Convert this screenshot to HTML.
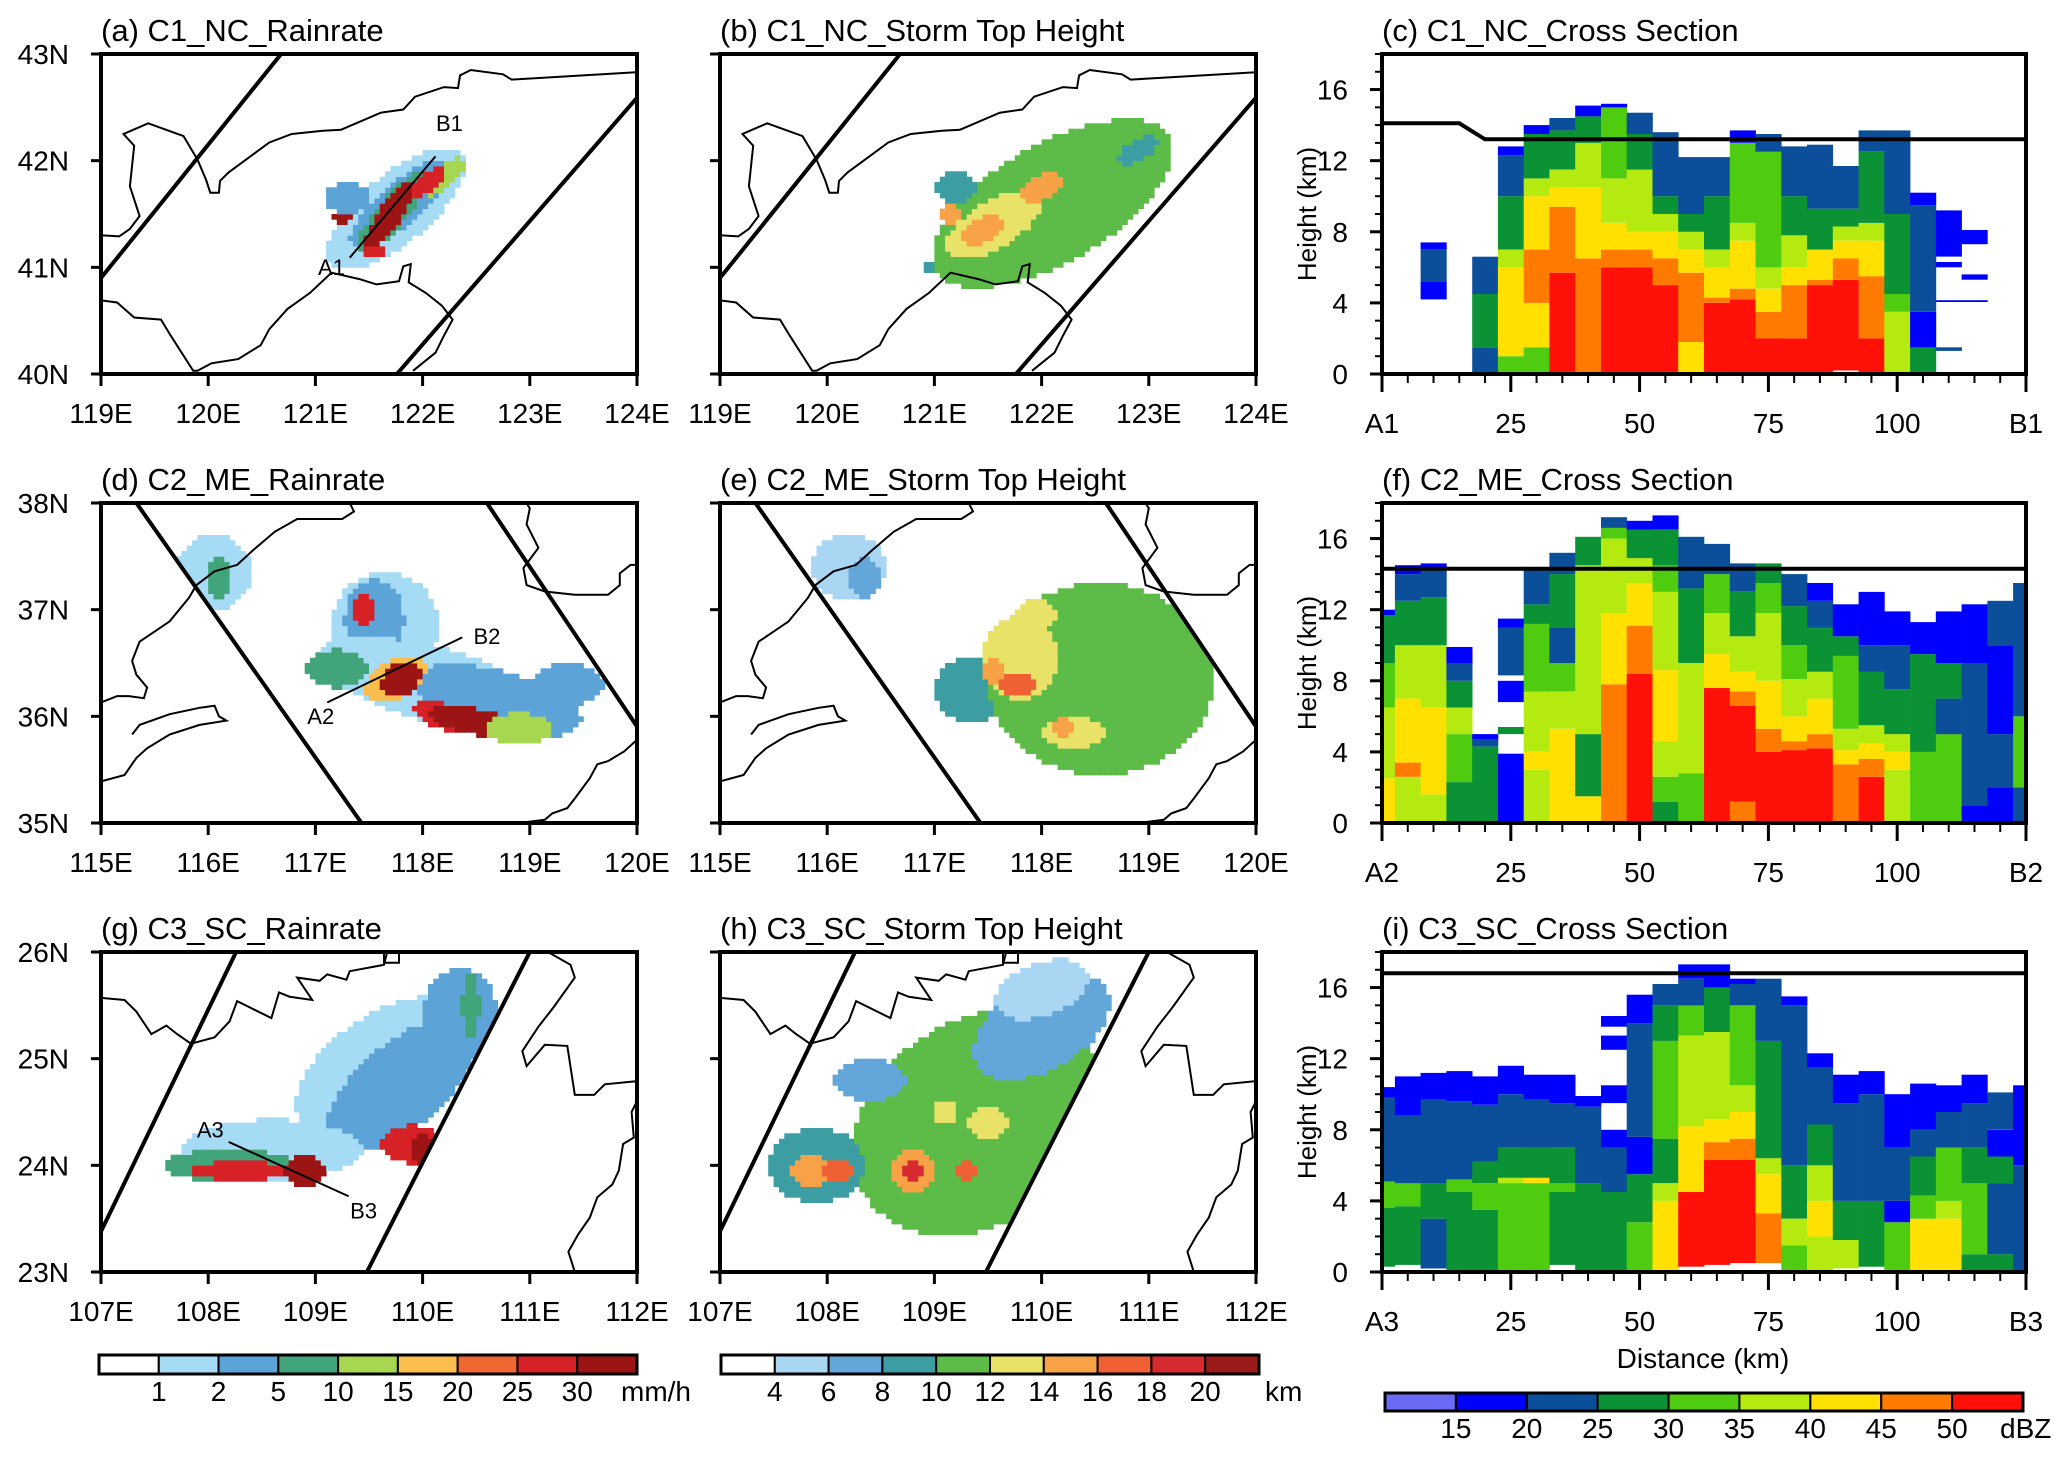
<!DOCTYPE html>
<html><head><meta charset="utf-8"><title>Storm cases figure</title>
<style>
html,body{margin:0;padding:0;background:#fff;width:2067px;height:1457px;overflow:hidden;}
svg{display:block;font-family:"Liberation Sans",Arial,sans-serif;}
</style></head>
<body>
<svg id="fig" xmlns="http://www.w3.org/2000/svg" width="2067" height="1457" viewBox="0 0 2067 1457" overflow="hidden">
<rect x="0" y="0" width="2067" height="1457" fill="#fff"/>
</svg>
<script>
// ---------- palettes ----------
const rainColors=["#ffffff","#a6dbf6","#5ca3d8","#41a47a","#a7d650","#fbbd4c","#f06631","#d62126","#9c1414"];
const rainTicks=["1","2","5","10","15","20","25","30"];
const stormColors=["#ffffff","#a8d6f3","#63a6d9","#3c9ea3","#5dbb48","#e8e268","#f7a246","#ef6134","#d72a30","#9b1a1a"];
const stormTicks=["4","6","8","10","12","14","16","18","20"];
const dbzColors=["#6a6af5","#0000ff","#0b4f9b","#0a9234","#4fcc10","#b5ea10","#ffe000","#ff7a00","#ff1008"];
const dbzTicks=["15","20","25","30","35","40","45","50"];
const xsTicks=[0,25,50,75,100,125];
const xsYTicks=[0,4,8,12,16];

// ---------- map data (lon/lat) ----------
const coastNC=[
[[124.27,42.99],[124.18,42.93],[124.18,42.84],[122.83,42.76],[122.75,42.81],[122.45,42.85],[122.35,42.80],[122.33,42.68],[122.2,42.69],[121.93,42.6],[121.82,42.48],[121.61,42.45],[121.24,42.29],[121.07,42.28],[120.78,42.25],[120.57,42.17],[120.19,41.89],[120.11,41.81],[120.1,41.7],[120.02,41.7],[119.98,41.82],[119.9,42.01],[119.77,42.23],[119.44,42.35],[119.21,42.25],[119.31,42.14],[119.27,41.76],[119.36,41.48],[119.27,41.36],[119.17,41.29],[119.0,41.3]],
[[119.0,40.69],[119.15,40.67],[119.31,40.53],[119.56,40.51],[119.65,40.36],[119.86,40.03],[119.9,40.03],[120.03,40.1],[120.28,40.14],[120.49,40.27],[120.57,40.42],[120.74,40.61],[120.95,40.76],[121.15,40.95],[121.41,40.89],[121.57,40.84],[121.78,40.87],[121.82,41.01],[121.89,41.03],[121.87,40.86],[122.03,40.76],[122.18,40.64],[122.28,40.51],[122.2,40.36],[122.12,40.2],[121.91,40.03]]
];
const coastME=[
[[117.32,38],[117.36,37.92],[117.25,37.85],[116.83,37.85],[116.62,37.73],[116.41,37.55],[116.27,37.42],[116.06,37.36],[115.89,37.23],[115.82,37.11],[115.64,36.89],[115.36,36.7],[115.29,36.52],[115.33,36.39],[115.43,36.27],[115.4,36.17],[115.26,36.19],[115.15,36.19],[115.0,36.13]],
[[115.29,35.83],[115.36,35.92],[115.64,36.02],[115.92,36.08],[116.06,36.1],[116.1,36.0],[116.17,35.96],[115.92,35.92],[115.64,35.83],[115.43,35.7],[115.33,35.61],[115.22,35.45],[115.0,35.39]],
[[118.97,38],[119.0,37.95],[118.97,37.8],[119.08,37.58],[118.94,37.39],[118.97,37.23],[119.14,37.17],[119.42,37.14],[119.73,37.14],[119.84,37.23],[119.84,37.34],[119.94,37.42],[120,37.42]],
[[120,35.78],[119.88,35.67],[119.78,35.61],[119.73,35.58],[119.63,35.55],[119.56,35.42],[119.42,35.23],[119.35,35.14],[119.21,35.09],[119.14,35.03],[118.9,35.0]]
];
const coastSC=[
[[107,25.57],[107.22,25.55],[107.33,25.44],[107.47,25.23],[107.61,25.31],[107.71,25.23],[107.84,25.14],[108.06,25.2],[108.2,25.35],[108.27,25.54],[108.59,25.38],[108.66,25.62],[108.76,25.58],[108.97,25.55],[108.83,25.76],[109.04,25.73],[109.11,25.79],[109.29,25.74],[109.32,25.82],[109.64,25.88],[109.67,26]],
[[109.64,26],[109.64,25.9],[109.78,25.9],[109.78,26]],
[[111.17,26],[111.38,25.88],[111.42,25.76],[111.22,25.48],[111.08,25.3],[110.93,25.07],[110.97,24.93],[111.14,25.13],[111.35,25.12],[111.42,24.66],[111.6,24.66],[111.7,24.76],[112,24.79]],
[[112,24.6],[111.95,24.5],[111.97,24.26],[111.87,24.2],[111.83,23.95],[111.77,23.82],[111.63,23.7],[111.56,23.51],[111.45,23.35],[111.36,23.19],[111.42,23.0]]
];
const swathNC=[[[119,40.9],[120.68,43]],[[121.76,40],[124,42.59]]];
const swathME=[[[115.33,38],[117.43,35]],[[118.6,38],[119.99,35.92]]];
const swathSC=[[[108.26,26],[107,23.38]],[[111,26],[109.48,23]]];
// patches [lon, lat, rx, ry, angleDeg, level]
const rainA=[[121.75,41.55,0.8,0.32,40,1],[121.8,41.6,0.6,0.2,40,2],[121.3,41.65,0.22,0.15,0,2],[121.72,41.52,0.5,0.14,50,3],[122.2,41.85,0.25,0.1,40,4],[121.7,41.5,0.38,0.11,55,8],[122.05,41.8,0.2,0.08,40,7],[121.25,41.47,0.08,0.05,0,8],[121.55,41.15,0.1,0.06,0,7]];
const stormB=[[122.1,41.6,1.25,0.55,30,4],[122.8,42.0,0.35,0.2,30,4],[122.9,42.1,0.2,0.1,30,3],[121.2,41.75,0.2,0.15,0,3],[121.55,41.4,0.5,0.22,30,5],[121.45,41.35,0.2,0.12,30,6],[121.15,41.5,0.12,0.08,0,6],[122.0,41.75,0.2,0.12,30,6],[120.95,41.0,0.08,0.05,0,3]];
const rainD=[[116.05,37.35,0.35,0.35,0,1],[116.1,37.3,0.12,0.2,0,3],[117.65,36.85,0.5,0.5,0,1],[117.55,36.9,0.28,0.38,0,2],[117.45,37.0,0.1,0.18,0,7],[118.1,36.3,1.1,0.35,-15,1],[118.7,36.15,0.8,0.28,-15,2],[119.35,36.3,0.35,0.2,0,2],[117.2,36.45,0.3,0.18,0,3],[117.75,36.35,0.32,0.18,30,5],[117.8,36.35,0.2,0.15,30,8],[118.2,36.0,0.3,0.12,-20,7],[118.5,35.95,0.45,0.12,-10,8],[118.9,35.88,0.3,0.15,0,4]];
const stormE=[[116.2,37.4,0.35,0.3,0,1],[116.35,37.3,0.15,0.18,0,2],[117.35,36.25,0.35,0.3,0,3],[118.55,36.35,1.05,0.9,0,4],[117.8,36.55,0.35,0.4,0,5],[117.95,36.95,0.2,0.15,0,5],[118.3,35.85,0.3,0.15,0,5],[117.55,36.42,0.12,0.12,0,6],[117.78,36.3,0.16,0.12,0,7],[118.2,35.9,0.1,0.08,0,6]];
const rainG=[[109.6,24.95,0.9,0.45,35,1],[109.8,24.75,0.85,0.4,40,2],[110.35,25.4,0.35,0.45,0,2],[108.6,24.15,0.85,0.28,0,1],[108.2,24.0,0.6,0.16,0,3],[108.3,23.95,0.45,0.09,0,7],[108.9,23.95,0.2,0.15,0,8],[109.9,24.2,0.28,0.18,0,7],[110.0,24.15,0.1,0.16,0,8],[110.45,25.5,0.08,0.3,0,3]];
const stormH=[[109.4,24.4,1.25,0.95,35,4],[110.0,25.3,0.7,0.4,30,2],[110.0,25.65,0.45,0.25,20,1],[108.4,24.8,0.35,0.2,0,2],[107.9,24.0,0.45,0.35,0,3],[107.85,23.95,0.2,0.15,0,6],[108.1,23.95,0.15,0.1,0,7],[108.8,23.95,0.22,0.2,0,6],[108.8,23.95,0.1,0.1,0,8],[109.3,23.95,0.1,0.1,0,7],[109.5,24.4,0.18,0.15,0,5],[109.1,24.5,0.1,0.12,0,5]];

// ---------- cross-section data ----------
const colsC=[
[10,[[4.2,5.2,1],[5.2,7,2],[7,7.4,1]]],
[20,[[0,1.5,2],[1.5,4.5,3],[4.5,6.6,2]]],
[25,[[0,1,4],[1,6,6],[6,7,5],[7,10,3],[10,12.3,2],[12.3,12.8,1]]],
[30,[[0,1.5,4],[1.5,4,6],[4,7,7],[7,10,6],[10,11,5],[11,13.5,3],[13.5,14,1]]],
[35,[[0,5.7,8],[5.7,9.4,7],[9.4,10.5,6],[10.5,11.5,5],[11.5,13.7,3],[13.7,14.4,2]]],
[40,[[0,6.5,7],[6.5,10.5,6],[10.5,13,5],[13,14.5,3],[14.5,15.1,1]]],
[45,[[0,6,8],[6,7,7],[7,8.5,6],[8.5,11,5],[11,15,4],[15,15.2,1]]],
[50,[[0,6,8],[6,7,7],[7,8,6],[8,11.5,5],[11.5,13.5,3],[13.5,14.7,2]]],
[55,[[0,5,8],[5,6.5,7],[6.5,8,6],[8,9,5],[9,10,3],[10,13.6,2]]],
[60,[[0,1.8,6],[1.8,5.7,7],[5.7,7,6],[7,8,5],[8,9,3],[9,12.2,2]]],
[65,[[0,4,8],[4,4.3,7],[4.3,6,6],[6,7,5],[7,10,3],[10,12.2,2]]],
[70,[[0,4.2,8],[4.2,4.8,7],[4.8,7.5,6],[7.5,8.5,5],[8.5,13,4],[13,13.7,1]]],
[75,[[0,2,8],[2,3.5,7],[3.5,4.8,6],[4.8,6,5],[6,12.5,4],[12.5,13.5,2]]],
[80,[[0,2,8],[2,5,7],[5,6,6],[6,7.8,5],[7.8,10,3],[10,12.8,2]]],
[85,[[0,5,8],[5,5.3,7],[5.3,7,6],[7,9.3,3],[9.3,12.9,2]]],
[90,[[0.2,5.3,8],[5.3,6.5,7],[6.5,7.5,6],[7.5,8.3,5],[8.3,9.3,3],[9.3,11.7,2]]],
[95,[[0,2,8],[2,5.5,7],[5.5,7.5,6],[7.5,8.5,5],[8.5,12.5,3],[12.5,13.7,2]]],
[100,[[0,3.5,5],[3.5,4.5,4],[4.5,9,3],[9,13.7,2]]],
[105,[[0,1.5,3],[1.5,3.5,1],[3.5,9.5,2],[9.5,10.2,1]]],
[110,[[1.3,1.5,2],[4.05,4.15,1],[6,6.3,1],[6.6,9.2,1]]],
[115,[[4.05,4.15,1],[5.3,5.6,1],[7.3,8.1,1]]]
];
const colsF=[
[0,[[0,2.5,6],[2.5,6.5,5],[6.5,9,4],[9,11.7,3],[11.7,12,1]]],
[5,[[0,2.6,5],[2.6,3.4,7],[3.4,7,6],[7,10,5],[10,12.5,3],[12.5,14,2],[14,14.5,1]]],
[10,[[0,1.6,5],[1.6,6.5,6],[6.5,10,5],[10,12.7,3],[12.7,14.4,2],[14.4,14.6,1]]],
[15,[[0,2.3,3],[2.3,5,4],[5,6.5,5],[6.5,8,3],[8,9,2],[9,9.9,1]]],
[20,[[0,4.3,3],[4.3,4.7,2],[4.7,5,1]]],
[25,[[0,3.9,1],[5,5.4,3],[6.8,8,1],[8.3,11,2],[11,11.5,1]]],
[30,[[0,3,5],[3,4,6],[4,7.4,5],[7.4,11.2,4],[11.2,12.3,3],[12.3,14.4,2]]],
[35,[[0,5.3,6],[5.3,7.4,5],[7.4,9,4],[9,11,2],[11,14,3],[14,15.2,2]]],
[40,[[0,1.5,6],[1.5,5,3],[5,14.5,5],[14.5,16.1,3]]],
[45,[[0,7.8,7],[7.8,11.8,6],[11.8,16,5],[16,16.6,4],[16.6,17.2,2]]],
[50,[[0,8.4,8],[8.4,11.1,7],[11.1,13.5,6],[13.5,14.9,5],[14.9,16.5,3],[16.5,17,1]]],
[55,[[0,1.2,3],[1.2,2.6,4],[2.6,4.6,5],[4.6,8.6,6],[8.6,13,5],[13,14.5,4],[14.5,16.5,3],[16.5,17.3,1]]],
[60,[[0,2.8,4],[2.8,9,5],[9,13.2,3],[13.2,16.1,2]]],
[65,[[0,7.6,8],[7.6,9.5,6],[9.5,11.8,5],[11.8,14,4],[14,15.7,2]]],
[70,[[0,1.2,7],[1.2,6.6,8],[6.6,7.4,7],[7.4,8.5,6],[8.5,10.5,5],[10.5,13,3],[13,14.6,2]]],
[75,[[0,4,8],[4,5.3,7],[5.3,8,6],[8,11.8,5],[11.8,13.5,4],[13.5,14.6,3]]],
[80,[[0,4.1,8],[4.1,4.6,7],[4.6,6,6],[6,8.1,5],[8.1,10,4],[10,12.2,3],[12.2,14,2]]],
[85,[[0,4.2,8],[4.2,5,7],[5,7,6],[7,8.5,5],[8.5,11,3],[11,12.5,2],[12.5,13.5,1]]],
[90,[[0,3.3,7],[3.3,4.1,6],[4.1,5.3,5],[5.3,9.4,4],[9.4,10.5,3],[10.5,12.3,1]]],
[95,[[0,2.6,8],[2.6,3.6,7],[3.6,4.5,6],[4.5,5.5,5],[5.5,8.5,3],[8.5,10,2],[10,13,1]]],
[100,[[0,3,5],[3,4,6],[4,5,5],[5,7.5,3],[7.5,10,2],[10,11.9,1]]],
[105,[[0,4,4],[4,9.5,3],[9.5,11.3,1]]],
[110,[[0,5,4],[5,7,2],[7,9,3],[9,11.9,1]]],
[115,[[0,1,1],[1,9,2],[9,12.3,1]]],
[120,[[0,2,1],[2,5,2],[5,10,1],[10,12.5,2]]],
[125,[[0,2,2],[2,6,4],[6,13.5,2]]]
];
const colsI=[
[0,[[0.3,3.6,3],[3.6,5.1,4],[5.1,9.8,2],[9.8,10.4,1]]],
[5,[[0.4,3.7,3],[3.7,5,4],[5,8.8,2],[8.8,11,1]]],
[10,[[0.2,3,2],[3,5,3],[5,9.7,2],[9.7,11.2,1]]],
[15,[[0,4.5,3],[4.5,5.2,4],[5.2,9.6,2],[9.6,11.3,1]]],
[20,[[0,3.5,3],[3.5,5,4],[5,6.2,3],[6.2,9.4,2],[9.4,11,1]]],
[25,[[0,5,4],[5,5.3,5],[5.3,7,3],[7,10,2],[10,11.6,1]]],
[30,[[0,5,4],[5,5.3,6],[5.3,7,3],[7,9.7,2],[9.7,11.1,1]]],
[35,[[0.4,4.5,3],[4.5,5,4],[5,7,3],[7,9.5,2],[9.5,11.1,1]]],
[40,[[0,5,3],[5,9.3,2],[9.3,9.9,1]]],
[45,[[0,4.5,3],[4.5,7,2],[7,8,1],[9.5,10.5,1],[12.5,13.3,1],[13.8,14.4,1]]],
[50,[[0,2.8,4],[2.8,5.5,3],[5.5,7.6,1],[7.6,14,2],[14,15.6,1]]],
[55,[[0,2.5,6],[2.5,4,6],[4,5,5],[5,7.5,3],[7.5,13,4],[13,15,3],[15,16.2,2]]],
[60,[[0.3,4.5,8],[4.5,8.2,6],[8.2,13.3,5],[13.3,15,4],[15,16.5,2],[16.5,17.3,1]]],
[65,[[0.4,6.3,8],[6.3,7.3,7],[7.3,8.6,6],[8.6,13.5,5],[13.5,16,3],[16,17.3,1]]],
[70,[[0.5,6.3,8],[6.3,7.5,7],[7.5,9,6],[9,10.5,5],[10.5,15,4],[15,16.2,2],[16.2,16.5,1]]],
[75,[[0.5,3.3,7],[3.3,5.5,6],[5.5,6.4,5],[6.4,13,3],[13,16.5,2]]],
[80,[[0,1.5,4],[1.5,3,5],[3,6,3],[6,15,2],[15,15.5,1]]],
[85,[[0,2,5],[2,4,6],[4,6,5],[6,8.3,3],[8.3,11.5,2],[11.5,12.3,1]]],
[90,[[0.2,1.8,5],[1.8,4,3],[4,9.5,2],[9.5,11.1,1]]],
[95,[[0.3,4,3],[4,10,2],[10,11.3,1]]],
[100,[[0,2.8,4],[2.8,4,1],[4,7,2],[7,10,1]]],
[105,[[0,3,6],[3,4.3,4],[4.3,6.5,3],[6.5,8,2],[8,10.6,1]]],
[110,[[0,3,6],[3,4,5],[4,7,4],[7,9,2],[9,10.5,1]]],
[115,[[0,1,3],[1,5,4],[5,7,3],[7,9.5,2],[9.5,11.1,1]]],
[120,[[0,1,3],[1,5,2],[5,6.5,3],[6.5,8,1],[8,10.1,2]]],
[125,[[0,6,2],[6,10.5,1]]]
];
const topLineC=[[0,14.1],[15,14.1],[20,13.2],[125,13.2]];
const topLineF=[[0,14.3],[125,14.3]];
const topLineI=[[0,16.8],[125,16.8]];

// ---------- layout ----------
const NS="http://www.w3.org/2000/svg";
const svg=document.getElementById("fig");
const rowY=[54,503,952];
const MAPW=536, MAPH=320;
const mapX=[101,720];
const XSX=1382, XSW=644, XSH=320;
const FS=28, TFS=31;

function el(tag,attrs,parent){const e=document.createElementNS(NS,tag);for(const k in attrs)e.setAttribute(k,attrs[k]);(parent||svg).appendChild(e);return e;}
function txt(x,y,s,anchor,parent,size){const t=el("text",{x:x,y:y,"font-size":size||FS,"text-anchor":anchor||"start",fill:"#000"},parent);t.textContent=s;return t;}

let clipId=0;
function drawMap(cfg){
  const g=el("g",{});
  
  
  const x0=cfg.x,y0=cfg.y;
  const sx=lon=>x0+(lon-cfg.lon0)*MAPW/5;
  const sy=lat=>y0+(cfg.lat0+3-lat)*MAPH/3;
  const t=txt(x0,y0-13,cfg.title,"start",g,TFS);
  
  
  const id="c"+(clipId++);
  const defs=el("defs",{},g);
  const cp=el("clipPath",{id:id+"p"},defs);
  el("rect",{x:x0,y:y0,width:MAPW,height:MAPH},cp);
  const cs=el("clipPath",{id:id+"s"},defs);
  // line clipped to the panel's latitude range
  const toLat=(l,lat)=>{const [a,b]=l;const f=(lat-a[1])/(b[1]-a[1]);return [a[0]+f*(b[0]-a[0]),lat];};
  const ends=l=>[toLat(l,cfg.lat0),toLat(l,cfg.lat0+3)];
  const L1=ends(cfg.swath[0]),L2=ends(cfg.swath[1]);
  const poly=[L1[0],L1[1],L2[1],L2[0]].map(p=>sx(p[0]).toFixed(1)+","+sy(p[1]).toFixed(1)).join(" ");
  el("polygon",{points:poly},cs);
  const inner=el("g",{"clip-path":"url(#"+id+"p)"},g);
  const field=el("g",{"clip-path":"url(#"+id+"s)"},inner);
  
  
  const step=0.05, cw=step*MAPW/5, ch=step*MAPH/3;
  for(let lon=cfg.lon0;lon<cfg.lon0+5-1e-6;lon+=step){
    for(let lat=cfg.lat0;lat<cfg.lat0+3-1e-6;lat+=step){
      const cx=lon+step/2, cy=lat+step/2;
      let lev=0;
      for(const b of cfg.blobs){
        const a=b[4]*Math.PI/180, dx=cx-b[0], dy=cy-b[1];
        const u=dx*Math.cos(a)+dy*Math.sin(a), v=-dx*Math.sin(a)+dy*Math.cos(a);
        if((u/b[2])*(u/b[2])+(v/b[3])*(v/b[3])<=1) lev=b[5];
      }
      if(lev>0){
        const r=el("rect",{x:sx(lon).toFixed(1),y:(sy(lat)-ch).toFixed(1),width:(cw+0.4).toFixed(1),height:(ch+0.4).toFixed(1),fill:cfg.colors[lev]},field);
        
        
      }
    }
  }
  for(const c of cfg.coast){
    const p=el("polyline",{points:c.map(q=>sx(q[0]).toFixed(1)+","+sy(q[1]).toFixed(1)).join(" "),fill:"none",stroke:"#000","stroke-width":2},inner);
    
    
  }
  for(const L of [L1,L2]){
    const s=el("line",{x1:sx(L[0][0]).toFixed(1),y1:sy(L[0][1]).toFixed(1),x2:sx(L[1][0]).toFixed(1),y2:sy(L[1][1]).toFixed(1),stroke:"#000","stroke-width":4},inner);
    
    
  }
  if(cfg.ab){
    const [A,B]=cfg.ab;
    const l=el("line",{x1:sx(A[0]),y1:sy(A[1]),x2:sx(B[0]),y2:sy(B[1]),stroke:"#000","stroke-width":2},g);
    
    
    const ta=txt(sx(cfg.abLab[0][0]),sy(cfg.abLab[0][1]),cfg.abNames[0],"middle",g,22);
    
    
    const tb=txt(sx(cfg.abLab[1][0]),sy(cfg.abLab[1][1]),cfg.abNames[1],"middle",g,22);
    
    
  }
  const fr=el("rect",{x:x0,y:y0,width:MAPW,height:MAPH,fill:"none",stroke:"#000","stroke-width":4},g);
  
  
  for(let i=0;i<=5;i++){
    const x=sx(cfg.lon0+i);
    el("line",{x1:x,y1:y0+MAPH,x2:x,y2:y0+MAPH+12,stroke:"#000","stroke-width":3},g);
    const tl=txt(x,y0+MAPH+49,(cfg.lon0+i)+"E","middle",g);
    
    
  }
  for(let j=0;j<=3;j++){
    const y=sy(cfg.lat0+j);
    el("line",{x1:x0-10,y1:y,x2:x0,y2:y,stroke:"#000","stroke-width":3},g);
    if(cfg.ylabels){
      const tl=txt(x0-32,y+10,(cfg.lat0+j)+"N","end",g);
      
      
    }
  }
}

function drawXS(cfg){
  const g=el("g",{});
  
  
  const x0=XSX,y0=cfg.y;
  const X=km=>x0+km*XSW/125;
  const Y=h=>y0+XSH-h*XSH/18;
  const t=txt(x0,y0-13,cfg.title,"start",g,TFS);
  
  
  const data=el("g",{},g);
  
  
  for(const col of cfg.cols){
    const c=col[0];
    const a=Math.max(0,c-2.5), b=Math.min(125,c+2.5);
    for(const seg of col[1]){
      const r=el("rect",{x:X(a).toFixed(1),y:Y(seg[1]).toFixed(1),width:(X(b)-X(a)+0.3).toFixed(1),height:(Y(seg[0])-Y(seg[1])).toFixed(1),fill:dbzColors[seg[2]]},data);
      
      
    }
  }
  const tl=el("polyline",{points:cfg.topLine.map(p=>X(p[0]).toFixed(1)+","+Y(p[1]).toFixed(1)).join(" "),fill:"none",stroke:"#000","stroke-width":4},g);
  
  
  const fr=el("rect",{x:x0,y:y0,width:XSW,height:XSH,fill:"none",stroke:"#000","stroke-width":4},g);
  
  
  for(let km=0;km<=125;km+=5){
    const major=xsTicks.indexOf(km)>=0;
    el("line",{x1:X(km),y1:y0+XSH,x2:X(km),y2:y0+XSH+(major?18:9),stroke:"#000","stroke-width":major?3:2},g);
  }
  xsTicks.forEach((v,i)=>{
    const lab=i===0?cfg.ab[0]:(i===xsTicks.length-1?cfg.ab[1]:String(v));
    const tt=txt(X(v),y0+XSH+59,lab,"middle",g);
    
    
  });
  for(let h=0;h<=18;h++){
    const major=xsYTicks.indexOf(h)>=0;
    el("line",{x1:x0-(major?12:7),y1:Y(h),x2:x0,y2:Y(h),stroke:"#000","stroke-width":major?3:2},g);
  }
  xsYTicks.forEach(v=>{
    const tt=txt(x0-34,Y(v)+10,String(v),"end",g);
    
    
  });
  const yl=txt(0,0,"Height (km)","middle",g,26);
  yl.setAttribute("transform","translate(1316,"+(y0+XSH/2)+") rotate(-90)");
  
  
}

function colorbar(x,y,w,h,colors,ticks,unit,unitX,labY,name){
  const g=el("g",{});
  
  
  const n=colors.length, bw=w/n;
  colors.forEach((c,i)=>{
    const r=el("rect",{x:x+i*bw,y:y,width:bw,height:h,fill:c,stroke:"#000","stroke-width":2},g);
    
    
  });
  el("rect",{x:x,y:y,width:w,height:h,fill:"none",stroke:"#000","stroke-width":3},g);
  ticks.forEach((t,i)=>{
    const tt=txt(x+(i+1)*bw,labY,t,"middle",g);
    
    
  });
  if(unit){
    const u=txt(unitX,labY,unit,"start",g);
    
    
  }
}

// ---------- build ----------
drawMap({name:"panel-a-rainrate",fieldName:"rainrate-field",title:"(a) C1_NC_Rainrate",x:mapX[0],y:rowY[0],lon0:119,lat0:40,coast:coastNC,swath:swathNC,blobs:rainA,colors:rainColors,ylabels:true,ab:[[121.32,41.09],[122.12,42.04]],abLab:[[121.15,40.93],[122.25,42.28]],abNames:["A1","B1"]});
drawMap({name:"panel-b-storm-top",fieldName:"storm-top-field",title:"(b) C1_NC_Storm Top Height",x:mapX[1],y:rowY[0],lon0:119,lat0:40,coast:coastNC,swath:swathNC,blobs:stormB,colors:stormColors,ylabels:false});
drawMap({name:"panel-d-rainrate",fieldName:"rainrate-field",title:"(d) C2_ME_Rainrate",x:mapX[0],y:rowY[1],lon0:115,lat0:35,coast:coastME,swath:swathME,blobs:rainD,colors:rainColors,ylabels:true,ab:[[117.11,36.13],[118.37,36.74]],abLab:[[117.05,35.93],[118.6,36.68]],abNames:["A2","B2"]});
drawMap({name:"panel-e-storm-top",fieldName:"storm-top-field",title:"(e) C2_ME_Storm Top Height",x:mapX[1],y:rowY[1],lon0:115,lat0:35,coast:coastME,swath:swathME,blobs:stormE,colors:stormColors,ylabels:false});
drawMap({name:"panel-g-rainrate",fieldName:"rainrate-field",title:"(g) C3_SC_Rainrate",x:mapX[0],y:rowY[2],lon0:107,lat0:23,coast:coastSC,swath:swathSC,blobs:rainG,colors:rainColors,ylabels:true,ab:[[108.19,24.22],[109.31,23.71]],abLab:[[108.02,24.26],[109.45,23.5]],abNames:["A3","B3"]});
drawMap({name:"panel-h-storm-top",fieldName:"storm-top-field",title:"(h) C3_SC_Storm Top Height",x:mapX[1],y:rowY[2],lon0:107,lat0:23,coast:coastSC,swath:swathSC,blobs:stormH,colors:stormColors,ylabels:false});

drawXS({name:"panel-c-cross-section",title:"(c) C1_NC_Cross Section",y:rowY[0],cols:colsC,topLine:topLineC,ab:["A1","B1"]});
drawXS({name:"panel-f-cross-section",title:"(f) C2_ME_Cross Section",y:rowY[1],cols:colsF,topLine:topLineF,ab:["A2","B2"]});
drawXS({name:"panel-i-cross-section",title:"(i) C3_SC_Cross Section",y:rowY[2],cols:colsI,topLine:topLineI,ab:["A3","B3"]});

const dl=txt(1703,1368,"Distance (km)","middle");



colorbar(99,1355,538,19,rainColors,rainTicks,"mm/h",621,1401,"rainrate-colorbar");
colorbar(721,1355,538,19,stormColors,stormTicks,"km",1265,1401,"storm-top-colorbar");
colorbar(1385,1393,638,18,dbzColors,dbzTicks,"",0,1438,"reflectivity-colorbar");
const dbz=txt(2000,1438,"dBZ","start");


</script>
</body></html>
